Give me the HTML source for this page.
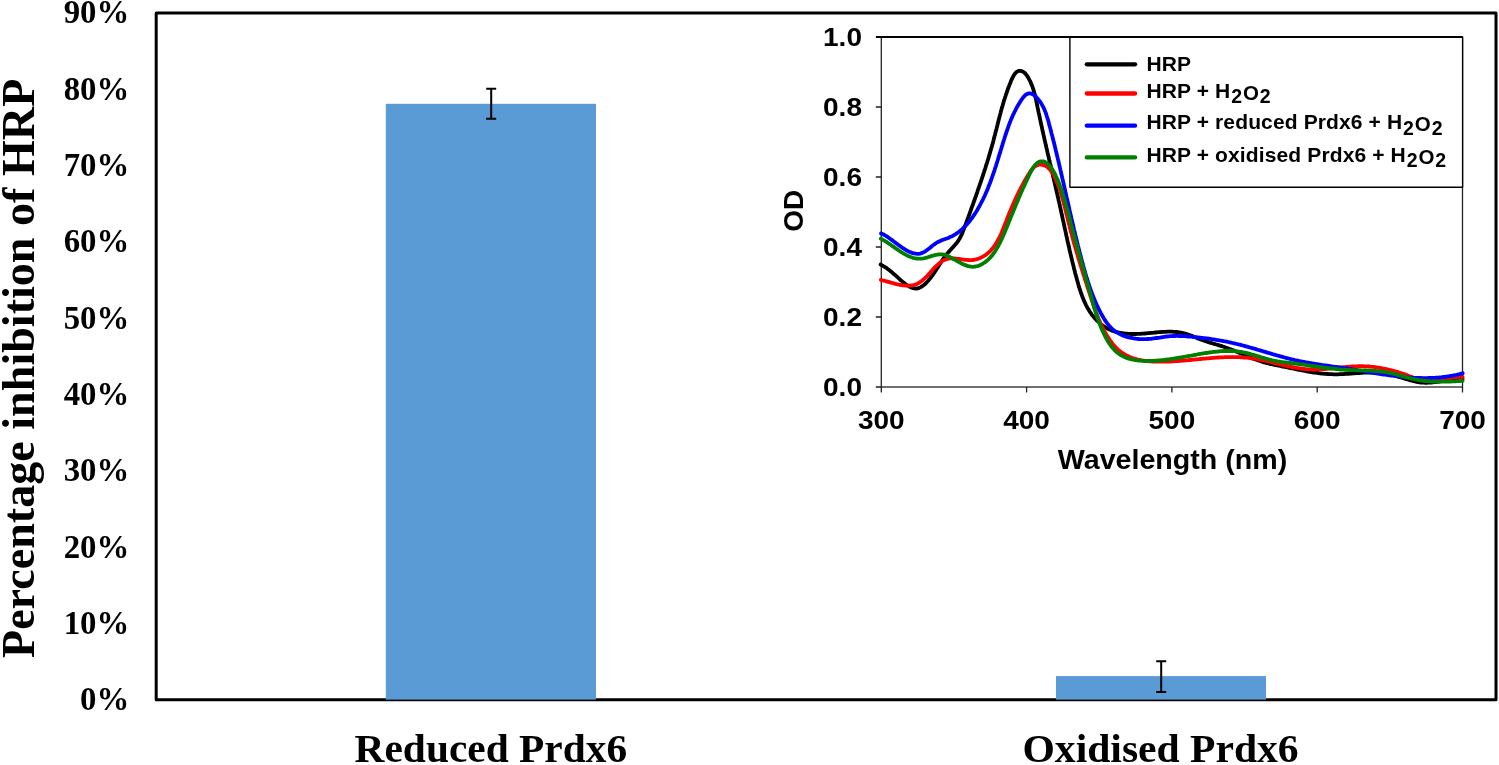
<!DOCTYPE html>
<html><head><meta charset="utf-8"><style>
html,body{margin:0;padding:0;background:#fff;width:1499px;height:765px;overflow:hidden}
svg{display:block;will-change:transform}
.ser{font-family:"Liberation Serif", serif;font-weight:bold;fill:#000}
.sans{font-family:"Liberation Sans", sans-serif;font-weight:bold;fill:#000}
</style></head><body>
<svg width="1499" height="765" viewBox="0 0 1499 765">
<text transform="translate(129.28,710.39)" text-anchor="end" class="ser" font-size="32.8">0%</text>
<text transform="translate(129.28,634.06)" text-anchor="end" class="ser" font-size="32.8">10%</text>
<text transform="translate(129.28,557.73)" text-anchor="end" class="ser" font-size="32.8">20%</text>
<text transform="translate(129.28,481.40)" text-anchor="end" class="ser" font-size="32.8">30%</text>
<text transform="translate(129.28,405.07)" text-anchor="end" class="ser" font-size="32.8">40%</text>
<text transform="translate(129.28,328.74)" text-anchor="end" class="ser" font-size="32.8">50%</text>
<text transform="translate(129.28,252.41)" text-anchor="end" class="ser" font-size="32.8">60%</text>
<text transform="translate(129.28,176.08)" text-anchor="end" class="ser" font-size="32.8">70%</text>
<text transform="translate(129.28,99.75)" text-anchor="end" class="ser" font-size="32.8">80%</text>
<text transform="translate(129.28,23.42)" text-anchor="end" class="ser" font-size="32.8">90%</text>
<text transform="translate(33.80,368.35) rotate(-90) scale(0.9940,1)" text-anchor="middle" class="ser" font-size="46.4">Percentage inhibition of HRP</text>
<text transform="translate(354.60,761.50) scale(1.0225,1)" class="ser" font-size="40.5">Reduced Prdx6</text>
<text transform="translate(1022.50,761.50) scale(1.0270,1)" class="ser" font-size="40.5">Oxidised Prdx6</text>
<rect x="156.2" y="13" width="1339.8" height="686.7" fill="none" stroke="#000" stroke-width="3" stroke-linejoin="round"/>
<rect x="385.8" y="103.8" width="210.2" height="595.8" fill="#5B9BD5"/>
<rect x="1056" y="676.1" width="210" height="23.5" fill="#5B9BD5"/>
<path d="M491.2,88.7V118.8M486.2,88.7H496.2M486.2,118.8H496.2" stroke="#000" stroke-width="2" fill="none"/>
<path d="M1161.2,661.2V692M1156.2,661.2H1166.2M1156.2,692H1166.2" stroke="#000" stroke-width="2" fill="none"/>
<rect x="881.3" y="37.0" width="581.2" height="350.0" fill="#fff" stroke="#222" stroke-width="1.3"/>
<path d="M875.8,387.0H881.3M875.8,317.0H881.3M875.8,247.0H881.3M875.8,177.0H881.3M875.8,107.0H881.3M875.8,37.0H881.3M881.3,387.0V392.5M1026.6,387.0V392.5M1171.9,387.0V392.5M1317.2,387.0V392.5M1462.5,387.0V392.5" stroke="#222" stroke-width="1.3" fill="none"/>
<text transform="translate(861.95,395.70) scale(1.1200,1)" text-anchor="end" class="sans" font-size="25">0.0</text>
<text transform="translate(861.95,325.70) scale(1.1200,1)" text-anchor="end" class="sans" font-size="25">0.2</text>
<text transform="translate(861.95,255.70) scale(1.1200,1)" text-anchor="end" class="sans" font-size="25">0.4</text>
<text transform="translate(861.95,185.70) scale(1.1200,1)" text-anchor="end" class="sans" font-size="25">0.6</text>
<text transform="translate(861.95,115.70) scale(1.1200,1)" text-anchor="end" class="sans" font-size="25">0.8</text>
<text transform="translate(861.95,45.70) scale(1.1200,1)" text-anchor="end" class="sans" font-size="25">1.0</text>
<text transform="translate(881.30,429.20) scale(1.1200,1)" text-anchor="middle" class="sans" font-size="25">300</text>
<text transform="translate(1026.60,429.20) scale(1.1200,1)" text-anchor="middle" class="sans" font-size="25">400</text>
<text transform="translate(1171.90,429.20) scale(1.1200,1)" text-anchor="middle" class="sans" font-size="25">500</text>
<text transform="translate(1317.20,429.20) scale(1.1200,1)" text-anchor="middle" class="sans" font-size="25">600</text>
<text transform="translate(1462.50,429.20) scale(1.1200,1)" text-anchor="middle" class="sans" font-size="25">700</text>
<text transform="translate(1057.80,468.80) scale(1.0260,1)" class="sans" font-size="27.9">Wavelength (nm)</text>
<text transform="translate(802.90,210.85) rotate(-90)" text-anchor="middle" class="sans" font-size="28">OD</text>
<path d="M880.6,264.6L882.0,265.3 883.3,266.0 884.6,266.8 885.9,267.6 887.1,268.5 888.3,269.4 889.5,270.3 890.6,271.2 891.8,272.2 892.9,273.2 894.1,274.2 895.2,275.2 896.3,276.2 897.4,277.2 898.5,278.2 899.6,279.2 900.8,280.2 901.9,281.1 903.1,282.1 904.2,283.0 905.4,284.0 906.6,284.8 907.9,285.7 909.2,286.5 910.5,287.2 911.9,287.7 913.3,288.2 914.8,288.5 916.3,288.5 917.8,288.3 919.2,287.9 920.6,287.2 921.8,286.5 923.1,285.6 924.2,284.7 925.4,283.7 926.4,282.6 927.5,281.5 928.5,280.4 929.4,279.3 930.4,278.1 931.3,276.9 932.2,275.7 933.1,274.5 933.9,273.3 934.8,272.0 935.6,270.8 936.4,269.5 937.2,268.3 938.0,267.0 938.8,265.7 939.6,264.4 940.4,263.2 941.2,261.9 942.0,260.6 942.9,259.4 943.7,258.1 944.6,256.9 945.5,255.7 946.4,254.5 947.4,253.4 948.4,252.2 949.4,251.1 950.4,250.0 951.4,248.9 952.4,247.8 953.4,246.7 954.4,245.6 955.4,244.4 956.4,243.3 957.3,242.1 958.2,240.9 959.0,239.6 959.8,238.3 960.5,237.0 961.1,235.7 961.8,234.3 962.4,232.9 962.9,231.5 963.5,230.1 964.0,228.7 964.5,227.3 965.0,225.9 965.6,224.5 966.1,223.1 966.6,221.7 967.1,220.3 967.6,218.9 968.2,217.5 968.7,216.1 969.2,214.7 969.7,213.3 970.2,211.8 970.7,210.4 971.2,209.0 971.7,207.6 972.2,206.2 972.8,204.8 973.3,203.4 973.8,201.9 974.3,200.5 974.8,199.1 975.3,197.7 975.8,196.3 976.3,194.9 976.8,193.5 977.3,192.0 977.7,190.6 978.2,189.2 978.7,187.8 979.2,186.4 979.7,184.9 980.2,183.5 980.7,182.1 981.2,180.7 981.6,179.3 982.1,177.8 982.6,176.4 983.1,175.0 983.5,173.6 984.0,172.1 984.4,170.7 984.9,169.3 985.4,167.8 985.8,166.4 986.3,165.0 986.7,163.6 987.2,162.1 987.6,160.7 988.1,159.3 988.5,157.8 988.9,156.4 989.4,154.9 989.8,153.5 990.2,152.1 990.6,150.6 991.0,149.2 991.5,147.7 991.9,146.3 992.3,144.8 992.7,143.4 993.1,142.0 993.5,140.5 993.8,139.1 994.2,137.6 994.6,136.1 995.0,134.7 995.3,133.2 995.7,131.8 996.1,130.3 996.5,128.9 996.8,127.4 997.2,126.0 997.6,124.5 997.9,123.1 998.3,121.6 998.7,120.1 999.0,118.7 999.4,117.2 999.8,115.8 1000.2,114.3 1000.6,112.9 1000.9,111.4 1001.3,110.0 1001.7,108.5 1002.1,107.1 1002.6,105.6 1003.0,104.2 1003.4,102.8 1003.8,101.3 1004.3,99.9 1004.7,98.5 1005.2,97.0 1005.7,95.6 1006.1,94.2 1006.6,92.8 1007.1,91.3 1007.6,89.9 1008.1,88.5 1008.6,87.1 1009.2,85.7 1009.7,84.3 1010.3,82.9 1010.8,81.5 1011.4,80.1 1012.0,78.8 1012.7,77.4 1013.4,76.1 1014.2,74.8 1015.0,73.6 1016.0,72.5 1017.2,71.6 1018.6,70.9 1020.1,70.8 1021.5,71.1 1022.9,71.7 1024.2,72.5 1025.3,73.5 1026.2,74.7 1027.1,75.9 1027.9,77.1 1028.7,78.4 1029.4,79.8 1030.1,81.1 1030.7,82.5 1031.3,83.9 1031.9,85.2 1032.4,86.6 1032.9,88.1 1033.4,89.5 1033.8,90.9 1034.2,92.4 1034.6,93.8 1035.0,95.3 1035.4,96.7 1035.7,98.2 1036.0,99.6 1036.3,101.1 1036.6,102.6 1036.9,104.1 1037.2,105.5 1037.5,107.0 1037.8,108.5 1038.1,109.9 1038.4,111.4 1038.7,112.9 1039.1,114.3 1039.4,115.8 1039.7,117.3 1040.0,118.7 1040.3,120.2 1040.6,121.7 1040.9,123.2 1041.2,124.6 1041.6,126.1 1041.9,127.6 1042.2,129.0 1042.5,130.5 1042.9,131.9 1043.2,133.4 1043.5,134.9 1043.9,136.3 1044.2,137.8 1044.5,139.3 1044.8,140.7 1045.2,142.2 1045.5,143.7 1045.9,145.1 1046.2,146.6 1046.5,148.0 1046.9,149.5 1047.2,151.0 1047.5,152.4 1047.9,153.9 1048.2,155.4 1048.6,156.8 1048.9,158.3 1049.2,159.7 1049.6,161.2 1049.9,162.7 1050.3,164.1 1050.6,165.6 1051.0,167.1 1051.3,168.5 1051.6,170.0 1052.0,171.4 1052.3,172.9 1052.7,174.4 1053.0,175.8 1053.3,177.3 1053.7,178.7 1054.0,180.2 1054.4,181.7 1054.7,183.1 1055.0,184.6 1055.4,186.1 1055.7,187.5 1056.1,189.0 1056.4,190.4 1056.7,191.9 1057.1,193.4 1057.4,194.8 1057.7,196.3 1058.1,197.8 1058.4,199.2 1058.7,200.7 1059.1,202.2 1059.4,203.6 1059.7,205.1 1060.0,206.5 1060.4,208.0 1060.7,209.5 1061.0,210.9 1061.3,212.4 1061.7,213.9 1062.0,215.3 1062.3,216.8 1062.6,218.3 1062.9,219.7 1063.3,221.2 1063.6,222.7 1063.9,224.1 1064.2,225.6 1064.5,227.1 1064.8,228.5 1065.2,230.0 1065.5,231.5 1065.8,232.9 1066.1,234.4 1066.4,235.9 1066.8,237.3 1067.1,238.8 1067.4,240.3 1067.7,241.7 1068.1,243.2 1068.4,244.7 1068.7,246.1 1069.1,247.6 1069.4,249.1 1069.7,250.5 1070.1,252.0 1070.4,253.4 1070.8,254.9 1071.1,256.4 1071.4,257.8 1071.8,259.3 1072.1,260.8 1072.5,262.2 1072.9,263.7 1073.2,265.1 1073.6,266.6 1073.9,268.0 1074.3,269.5 1074.7,270.9 1075.0,272.4 1075.4,273.9 1075.8,275.3 1076.2,276.8 1076.6,278.2 1077.0,279.7 1077.4,281.1 1077.8,282.6 1078.2,284.0 1078.6,285.4 1079.0,286.9 1079.5,288.3 1079.9,289.7 1080.4,291.2 1080.9,292.6 1081.4,294.0 1081.9,295.4 1082.4,296.8 1083.0,298.2 1083.5,299.6 1084.1,301.0 1084.8,302.3 1085.4,303.7 1086.0,305.1 1086.7,306.4 1087.4,307.7 1088.2,309.0 1089.0,310.3 1089.7,311.6 1090.6,312.8 1091.4,314.1 1092.3,315.3 1093.3,316.5 1094.2,317.6 1095.2,318.7 1096.2,319.8 1097.3,320.9 1098.4,321.9 1099.5,322.9 1100.6,323.9 1101.8,324.8 1103.0,325.7 1104.3,326.6 1105.5,327.4 1106.8,328.1 1108.2,328.8 1109.5,329.5 1110.9,330.1 1112.3,330.6 1113.7,331.1 1115.1,331.6 1116.6,332.0 1118.0,332.4 1119.5,332.7 1121.0,333.0 1122.4,333.2 1123.9,333.4 1125.4,333.6 1126.9,333.7 1128.4,333.8 1129.9,333.9 1131.4,334.0 1132.9,334.0 1134.4,334.0 1135.9,334.0 1137.4,333.9 1138.9,333.9 1140.4,333.8 1141.9,333.7 1143.4,333.6 1144.9,333.5 1146.4,333.4 1147.9,333.2 1149.4,333.1 1150.9,332.9 1152.4,332.8 1153.9,332.7 1155.4,332.5 1156.9,332.4 1158.4,332.2 1159.9,332.1 1161.4,332.0 1162.9,331.9 1164.4,331.8 1165.8,331.8 1167.4,331.7 1168.9,331.7 1170.4,331.7 1171.9,331.7 1173.4,331.8 1174.9,331.9 1176.3,332.0 1177.8,332.2 1179.3,332.4 1180.8,332.6 1182.3,332.9 1183.7,333.3 1185.2,333.7 1186.6,334.1 1188.1,334.6 1189.5,335.1 1190.9,335.6 1192.3,336.1 1193.7,336.7 1195.1,337.2 1196.5,337.8 1197.8,338.4 1199.2,338.9 1200.6,339.5 1202.0,340.0 1203.5,340.5 1204.9,341.0 1206.3,341.5 1207.7,341.9 1209.2,342.4 1210.6,342.8 1212.0,343.2 1213.5,343.7 1214.9,344.1 1216.4,344.5 1217.8,344.9 1219.2,345.4 1220.7,345.8 1222.1,346.2 1223.5,346.7 1225.0,347.2 1226.4,347.7 1227.8,348.2 1229.2,348.7 1230.6,349.2 1232.0,349.8 1233.4,350.3 1234.8,350.9 1236.2,351.5 1237.5,352.1 1238.9,352.7 1240.3,353.2 1241.7,353.8 1243.1,354.4 1244.4,355.0 1245.8,355.6 1247.2,356.2 1248.6,356.8 1250.0,357.3 1251.4,357.9 1252.8,358.4 1254.2,359.0 1255.6,359.5 1257.0,360.0 1258.4,360.5 1259.8,361.0 1261.3,361.4 1262.7,361.9 1264.1,362.3 1265.6,362.7 1267.0,363.1 1268.5,363.4 1270.0,363.8 1271.4,364.1 1272.9,364.4 1274.4,364.8 1275.8,365.1 1277.3,365.4 1278.8,365.7 1280.2,366.0 1281.7,366.3 1283.2,366.6 1284.7,366.9 1286.1,367.2 1287.6,367.5 1289.1,367.8 1290.5,368.1 1292.0,368.4 1293.5,368.7 1294.9,369.0 1296.4,369.3 1297.9,369.6 1299.4,369.9 1300.8,370.2 1302.3,370.5 1303.8,370.7 1305.3,371.0 1306.7,371.3 1308.2,371.5 1309.7,371.8 1311.2,372.1 1312.6,372.3 1314.1,372.5 1315.6,372.7 1317.1,372.9 1318.6,373.1 1320.1,373.3 1321.6,373.5 1323.1,373.6 1324.6,373.8 1326.1,373.9 1327.6,374.0 1329.1,374.1 1330.6,374.2 1332.1,374.2 1333.6,374.3 1335.1,374.3 1336.6,374.3 1338.1,374.3 1339.6,374.2 1341.1,374.2 1342.6,374.1 1344.1,374.0 1345.6,373.9 1347.1,373.9 1348.5,373.8 1350.0,373.6 1351.5,373.5 1353.0,373.4 1354.5,373.3 1356.0,373.2 1357.5,373.1 1359.0,373.0 1360.5,372.9 1362.0,372.8 1363.5,372.7 1365.0,372.7 1366.5,372.6 1368.0,372.6 1369.5,372.6 1371.0,372.6 1372.5,372.6 1374.0,372.6 1375.5,372.6 1377.0,372.7 1378.5,372.8 1380.0,372.9 1381.5,373.0 1383.0,373.2 1384.5,373.4 1386.0,373.6 1387.5,373.9 1388.9,374.2 1390.4,374.5 1391.9,374.8 1393.3,375.2 1394.8,375.6 1396.2,376.0 1397.7,376.4 1399.1,376.8 1400.5,377.3 1402.0,377.7 1403.4,378.2 1404.8,378.6 1406.3,379.1 1407.7,379.5 1409.1,379.9 1410.6,380.4 1412.0,380.7 1413.5,381.1 1414.9,381.5 1416.4,381.8 1417.9,382.0 1419.4,382.3 1420.9,382.5 1422.3,382.6 1423.8,382.7 1425.3,382.8 1426.8,382.8 1428.3,382.7 1429.8,382.7 1431.3,382.5 1432.8,382.4 1434.3,382.2 1435.8,382.0 1437.3,381.8 1438.8,381.6 1440.3,381.3 1441.7,381.1 1443.2,380.8 1444.7,380.6 1446.2,380.3 1447.7,380.1 1449.1,379.8 1450.6,379.6 1452.1,379.4 1453.6,379.2 1455.1,379.1 1456.6,379.0 1458.1,378.9 1459.6,378.9 1461.1,378.9 1462.6,379.0" stroke="#000000" stroke-width="3.8" fill="none" stroke-linejoin="round" stroke-linecap="round"/>
<path d="M880.8,279.9L882.3,280.3 883.7,280.6 885.2,281.0 886.6,281.4 888.1,281.8 889.5,282.2 890.9,282.6 892.4,283.0 893.8,283.4 895.3,283.8 896.8,284.1 898.2,284.5 899.7,284.8 901.2,285.0 902.7,285.3 904.2,285.4 905.7,285.6 907.2,285.6 908.7,285.6 910.2,285.6 911.6,285.4 913.1,285.2 914.6,284.8 916.0,284.3 917.4,283.7 918.7,283.0 920.0,282.2 921.2,281.3 922.4,280.4 923.5,279.4 924.6,278.4 925.7,277.4 926.8,276.3 927.8,275.2 928.8,274.1 929.8,273.0 930.8,271.9 931.8,270.7 932.8,269.6 933.8,268.5 934.8,267.4 935.9,266.3 937.0,265.3 938.1,264.3 939.2,263.3 940.4,262.4 941.6,261.5 942.9,260.7 944.2,260.0 945.6,259.4 947.0,259.0 948.5,258.6 950.0,258.4 951.5,258.4 953.0,258.4 954.5,258.5 956.0,258.6 957.5,258.8 959.0,259.0 960.5,259.2 961.9,259.4 963.4,259.6 964.9,259.8 966.4,259.9 967.9,260.0 969.4,260.1 970.9,260.1 972.4,260.0 973.9,259.8 975.4,259.5 976.8,259.2 978.3,258.7 979.7,258.2 981.1,257.6 982.4,256.9 983.7,256.2 985.0,255.4 986.2,254.5 987.4,253.6 988.5,252.6 989.6,251.6 990.7,250.5 991.7,249.4 992.6,248.3 993.6,247.1 994.4,245.8 995.3,244.6 996.1,243.3 996.9,242.1 997.6,240.7 998.3,239.4 999.0,238.1 999.7,236.8 1000.3,235.4 1001.0,234.0 1001.6,232.7 1002.2,231.3 1002.7,229.9 1003.3,228.5 1003.9,227.1 1004.4,225.7 1005.0,224.3 1005.5,222.9 1006.1,221.5 1006.6,220.1 1007.1,218.7 1007.7,217.3 1008.2,215.9 1008.8,214.5 1009.4,213.1 1009.9,211.7 1010.5,210.4 1011.1,209.0 1011.7,207.6 1012.3,206.2 1012.9,204.8 1013.5,203.4 1014.1,202.1 1014.7,200.7 1015.3,199.3 1015.9,198.0 1016.6,196.6 1017.2,195.3 1017.9,193.9 1018.5,192.6 1019.2,191.2 1019.9,189.9 1020.6,188.5 1021.3,187.2 1022.0,185.9 1022.7,184.6 1023.4,183.2 1024.1,181.9 1024.9,180.6 1025.6,179.3 1026.4,178.0 1027.1,176.7 1027.9,175.4 1028.7,174.2 1029.5,172.9 1030.3,171.6 1031.1,170.4 1032.1,169.2 1033.1,168.1 1034.2,167.0 1035.4,166.2 1036.7,165.4 1038.1,165.0 1039.6,164.7 1041.1,164.7 1042.6,164.9 1044.0,165.3 1045.4,165.8 1046.7,166.6 1047.9,167.5 1049.0,168.5 1050.0,169.6 1050.9,170.8 1051.8,172.0 1052.6,173.3 1053.4,174.6 1054.1,175.9 1054.8,177.3 1055.4,178.6 1056.0,180.0 1056.6,181.4 1057.2,182.8 1057.7,184.2 1058.3,185.6 1058.8,187.0 1059.3,188.4 1059.8,189.8 1060.3,191.2 1060.7,192.7 1061.2,194.1 1061.6,195.5 1062.1,197.0 1062.5,198.4 1062.9,199.9 1063.3,201.3 1063.7,202.8 1064.0,204.2 1064.4,205.7 1064.8,207.1 1065.2,208.6 1065.5,210.0 1065.9,211.5 1066.2,212.9 1066.6,214.4 1067.0,215.9 1067.3,217.3 1067.7,218.8 1068.0,220.2 1068.4,221.7 1068.7,223.2 1069.1,224.6 1069.5,226.1 1069.8,227.5 1070.2,229.0 1070.6,230.4 1071.0,231.9 1071.4,233.3 1071.8,234.8 1072.1,236.2 1072.5,237.7 1072.9,239.1 1073.3,240.6 1073.7,242.0 1074.1,243.5 1074.6,244.9 1075.0,246.4 1075.4,247.8 1075.8,249.3 1076.2,250.7 1076.6,252.1 1077.1,253.6 1077.5,255.0 1077.9,256.5 1078.3,257.9 1078.8,259.3 1079.2,260.8 1079.7,262.2 1080.1,263.6 1080.5,265.1 1081.0,266.5 1081.4,267.9 1081.9,269.4 1082.3,270.8 1082.8,272.2 1083.2,273.7 1083.7,275.1 1084.1,276.5 1084.6,278.0 1085.0,279.4 1085.5,280.8 1086.0,282.3 1086.4,283.7 1086.9,285.1 1087.3,286.6 1087.8,288.0 1088.3,289.4 1088.7,290.8 1089.2,292.3 1089.7,293.7 1090.1,295.1 1090.6,296.5 1091.1,298.0 1091.5,299.4 1092.0,300.8 1092.5,302.2 1093.0,303.7 1093.5,305.1 1093.9,306.5 1094.4,307.9 1094.9,309.3 1095.5,310.8 1096.0,312.2 1096.5,313.6 1097.0,315.0 1097.6,316.4 1098.2,317.8 1098.7,319.2 1099.3,320.5 1099.9,321.9 1100.5,323.3 1101.2,324.6 1101.8,326.0 1102.5,327.4 1103.1,328.7 1103.8,330.0 1104.5,331.3 1105.3,332.7 1106.0,334.0 1106.8,335.3 1107.6,336.5 1108.4,337.8 1109.2,339.1 1110.0,340.3 1110.9,341.5 1111.8,342.7 1112.7,343.9 1113.7,345.1 1114.7,346.2 1115.7,347.3 1116.8,348.4 1117.8,349.4 1119.0,350.4 1120.1,351.3 1121.3,352.2 1122.6,353.1 1123.8,353.9 1125.1,354.7 1126.5,355.4 1127.8,356.0 1129.2,356.7 1130.6,357.2 1132.0,357.8 1133.4,358.3 1134.8,358.7 1136.3,359.1 1137.7,359.5 1139.2,359.8 1140.7,360.1 1142.1,360.4 1143.6,360.6 1145.1,360.9 1146.6,361.0 1148.1,361.2 1149.6,361.3 1151.1,361.4 1152.6,361.5 1154.1,361.6 1155.6,361.7 1157.1,361.7 1158.6,361.7 1160.1,361.7 1161.6,361.7 1163.1,361.7 1164.6,361.7 1166.1,361.6 1167.6,361.6 1169.1,361.5 1170.6,361.5 1172.1,361.4 1173.6,361.3 1175.1,361.2 1176.6,361.1 1178.1,361.0 1179.6,360.9 1181.1,360.8 1182.6,360.7 1184.1,360.5 1185.6,360.4 1187.1,360.3 1188.6,360.1 1190.1,360.0 1191.6,359.9 1193.1,359.7 1194.5,359.6 1196.0,359.4 1197.5,359.3 1199.0,359.1 1200.5,359.0 1202.0,358.9 1203.5,358.7 1205.0,358.6 1206.5,358.4 1208.0,358.3 1209.5,358.2 1211.0,358.1 1212.5,357.9 1214.0,357.8 1215.5,357.7 1217.0,357.6 1218.5,357.5 1220.0,357.4 1221.5,357.4 1223.0,357.3 1224.5,357.2 1226.0,357.2 1227.5,357.1 1229.0,357.1 1230.5,357.1 1232.0,357.1 1233.5,357.1 1235.0,357.1 1236.5,357.1 1238.0,357.2 1239.5,357.2 1241.0,357.3 1242.5,357.4 1244.0,357.5 1245.5,357.6 1247.0,357.7 1248.5,357.9 1250.0,358.1 1251.5,358.3 1253.0,358.5 1254.4,358.7 1255.9,358.9 1257.4,359.2 1258.9,359.5 1260.3,359.8 1261.8,360.1 1263.3,360.4 1264.8,360.7 1266.2,361.0 1267.7,361.4 1269.1,361.7 1270.6,362.1 1272.1,362.4 1273.5,362.8 1275.0,363.1 1276.4,363.5 1277.9,363.9 1279.4,364.2 1280.8,364.6 1282.3,364.9 1283.7,365.3 1285.2,365.6 1286.7,365.9 1288.1,366.3 1289.6,366.6 1291.1,366.9 1292.5,367.2 1294.0,367.5 1295.5,367.7 1297.0,368.0 1298.5,368.2 1299.9,368.5 1301.4,368.7 1302.9,368.8 1304.4,369.0 1305.9,369.1 1307.4,369.3 1308.9,369.3 1310.4,369.4 1311.9,369.4 1313.4,369.5 1314.9,369.5 1316.4,369.4 1317.9,369.4 1319.4,369.3 1320.9,369.3 1322.4,369.2 1323.9,369.1 1325.4,369.0 1326.9,368.8 1328.4,368.7 1329.9,368.6 1331.4,368.4 1332.9,368.3 1334.4,368.1 1335.9,368.0 1337.4,367.8 1338.9,367.7 1340.4,367.5 1341.9,367.3 1343.3,367.2 1344.8,367.1 1346.3,366.9 1347.8,366.8 1349.3,366.7 1350.8,366.6 1352.3,366.5 1353.8,366.4 1355.3,366.3 1356.8,366.3 1358.3,366.2 1359.8,366.2 1361.3,366.2 1362.8,366.2 1364.3,366.3 1365.8,366.3 1367.3,366.4 1368.8,366.5 1370.3,366.6 1371.8,366.8 1373.3,366.9 1374.8,367.1 1376.3,367.3 1377.8,367.5 1379.3,367.8 1380.8,368.0 1382.2,368.3 1383.7,368.6 1385.2,368.9 1386.6,369.2 1388.1,369.5 1389.6,369.9 1391.0,370.2 1392.5,370.6 1393.9,371.0 1395.4,371.4 1396.8,371.8 1398.3,372.2 1399.7,372.7 1401.1,373.2 1402.5,373.6 1404.0,374.1 1405.4,374.6 1406.8,375.1 1408.2,375.7 1409.6,376.2 1411.0,376.7 1412.4,377.2 1413.8,377.7 1415.3,378.2 1416.7,378.7 1418.1,379.1 1419.6,379.5 1421.0,379.9 1422.5,380.3 1424.0,380.6 1425.4,380.8 1426.9,381.0 1428.4,381.1 1429.9,381.1 1431.4,381.1 1432.9,381.1 1434.4,380.9 1435.9,380.7 1437.4,380.5 1438.9,380.3 1440.4,380.0 1441.8,379.7 1443.3,379.4 1444.8,379.1 1446.2,378.8 1447.7,378.5 1449.2,378.2 1450.7,377.9 1452.1,377.6 1453.6,377.4 1455.1,377.2 1456.6,377.0 1458.1,376.9 1459.6,376.9 1461.1,376.9 1462.6,377.0" stroke="#ff0000" stroke-width="3.8" fill="none" stroke-linejoin="round" stroke-linecap="round"/>
<path d="M881.0,233.4L882.4,234.0 883.7,234.6 885.0,235.4 886.3,236.1 887.6,236.9 888.8,237.8 890.0,238.7 891.3,239.6 892.5,240.4 893.7,241.4 894.9,242.3 896.1,243.2 897.3,244.1 898.5,245.0 899.7,245.8 900.9,246.7 902.1,247.6 903.4,248.4 904.6,249.2 905.9,250.0 907.2,250.7 908.6,251.4 909.9,252.0 911.3,252.6 912.8,253.1 914.2,253.4 915.7,253.7 917.2,253.8 918.7,253.8 920.2,253.6 921.6,253.2 923.0,252.6 924.3,251.9 925.6,251.1 926.8,250.2 928.0,249.3 929.2,248.4 930.4,247.5 931.5,246.5 932.7,245.6 933.9,244.6 935.1,243.8 936.3,242.9 937.6,242.2 939.0,241.5 940.3,240.9 941.7,240.3 943.1,239.8 944.5,239.3 946.0,238.8 947.4,238.3 948.8,237.7 950.1,237.1 951.5,236.5 952.8,235.8 954.1,235.0 955.4,234.3 956.7,233.4 957.9,232.6 959.1,231.7 960.3,230.7 961.4,229.8 962.5,228.8 963.6,227.7 964.7,226.7 965.7,225.6 966.8,224.5 967.7,223.4 968.7,222.2 969.7,221.1 970.6,219.9 971.5,218.7 972.4,217.5 973.2,216.2 974.1,215.0 974.9,213.7 975.7,212.5 976.5,211.2 977.3,209.9 978.0,208.6 978.8,207.3 979.5,206.0 980.2,204.7 980.9,203.4 981.6,202.0 982.3,200.7 983.0,199.3 983.6,198.0 984.3,196.6 984.9,195.3 985.5,193.9 986.1,192.5 986.7,191.2 987.3,189.8 987.9,188.4 988.4,187.0 989.0,185.6 989.5,184.2 990.1,182.8 990.6,181.4 991.1,180.0 991.6,178.6 992.1,177.2 992.6,175.7 993.1,174.3 993.6,172.9 994.1,171.5 994.6,170.1 995.0,168.6 995.5,167.2 996.0,165.8 996.4,164.3 996.9,162.9 997.3,161.5 997.8,160.0 998.2,158.6 998.6,157.2 999.1,155.7 999.5,154.3 1000.0,152.9 1000.4,151.4 1000.8,150.0 1001.3,148.6 1001.7,147.1 1002.2,145.7 1002.6,144.3 1003.0,142.8 1003.5,141.4 1003.9,140.0 1004.4,138.5 1004.8,137.1 1005.3,135.7 1005.8,134.2 1006.2,132.8 1006.7,131.4 1007.2,130.0 1007.7,128.6 1008.2,127.1 1008.7,125.7 1009.2,124.3 1009.7,122.9 1010.3,121.5 1010.8,120.1 1011.4,118.7 1012.0,117.4 1012.6,116.0 1013.2,114.6 1013.9,113.3 1014.5,111.9 1015.2,110.6 1015.9,109.2 1016.6,107.9 1017.3,106.6 1018.1,105.3 1018.8,104.0 1019.6,102.7 1020.4,101.4 1021.2,100.2 1022.1,98.9 1022.9,97.7 1023.9,96.6 1024.9,95.5 1026.1,94.5 1027.4,93.8 1028.8,93.4 1030.3,93.4 1031.8,93.8 1033.1,94.5 1034.3,95.3 1035.5,96.3 1036.5,97.4 1037.6,98.5 1038.5,99.6 1039.4,100.8 1040.3,102.0 1041.1,103.3 1041.9,104.6 1042.6,105.9 1043.3,107.2 1044.0,108.6 1044.6,110.0 1045.1,111.3 1045.7,112.7 1046.2,114.2 1046.6,115.6 1047.1,117.0 1047.5,118.4 1048.0,119.9 1048.4,121.3 1048.8,122.8 1049.1,124.2 1049.5,125.7 1049.9,127.1 1050.3,128.6 1050.7,130.0 1051.1,131.5 1051.4,132.9 1051.8,134.4 1052.2,135.8 1052.6,137.3 1052.9,138.8 1053.3,140.2 1053.7,141.7 1054.0,143.1 1054.4,144.6 1054.8,146.0 1055.1,147.5 1055.5,149.0 1055.8,150.4 1056.2,151.9 1056.5,153.3 1056.9,154.8 1057.2,156.3 1057.6,157.7 1057.9,159.2 1058.3,160.6 1058.6,162.1 1059.0,163.6 1059.3,165.0 1059.6,166.5 1060.0,167.9 1060.3,169.4 1060.7,170.9 1061.0,172.3 1061.3,173.8 1061.7,175.3 1062.0,176.7 1062.3,178.2 1062.7,179.6 1063.0,181.1 1063.3,182.6 1063.7,184.0 1064.0,185.5 1064.3,187.0 1064.7,188.4 1065.0,189.9 1065.3,191.4 1065.6,192.8 1066.0,194.3 1066.3,195.7 1066.6,197.2 1067.0,198.7 1067.3,200.1 1067.6,201.6 1068.0,203.1 1068.3,204.5 1068.6,206.0 1069.0,207.5 1069.3,208.9 1069.6,210.4 1070.0,211.8 1070.3,213.3 1070.6,214.8 1071.0,216.2 1071.3,217.7 1071.6,219.2 1072.0,220.6 1072.3,222.1 1072.7,223.5 1073.0,225.0 1073.4,226.5 1073.7,227.9 1074.0,229.4 1074.4,230.9 1074.7,232.3 1075.1,233.8 1075.4,235.2 1075.8,236.7 1076.1,238.1 1076.5,239.6 1076.9,241.1 1077.2,242.5 1077.6,244.0 1077.9,245.4 1078.3,246.9 1078.7,248.3 1079.0,249.8 1079.4,251.3 1079.8,252.7 1080.2,254.2 1080.5,255.6 1080.9,257.1 1081.3,258.5 1081.7,260.0 1082.1,261.4 1082.5,262.9 1082.8,264.3 1083.2,265.8 1083.6,267.2 1084.0,268.7 1084.5,270.1 1084.9,271.6 1085.3,273.0 1085.7,274.4 1086.1,275.9 1086.6,277.3 1087.0,278.7 1087.5,280.2 1087.9,281.6 1088.4,283.0 1088.8,284.5 1089.3,285.9 1089.8,287.3 1090.3,288.7 1090.8,290.1 1091.3,291.5 1091.8,293.0 1092.4,294.4 1092.9,295.8 1093.5,297.2 1094.0,298.5 1094.6,299.9 1095.2,301.3 1095.8,302.7 1096.4,304.1 1097.0,305.4 1097.7,306.8 1098.3,308.1 1099.0,309.5 1099.7,310.8 1100.3,312.2 1101.0,313.5 1101.8,314.8 1102.5,316.1 1103.3,317.4 1104.0,318.7 1104.8,320.0 1105.7,321.2 1106.5,322.4 1107.4,323.6 1108.4,324.8 1109.3,326.0 1110.4,327.1 1111.4,328.1 1112.5,329.1 1113.7,330.1 1114.8,331.0 1116.1,331.9 1117.3,332.7 1118.6,333.4 1120.0,334.1 1121.3,334.8 1122.7,335.4 1124.1,335.9 1125.5,336.4 1127.0,336.9 1128.4,337.3 1129.9,337.6 1131.3,337.9 1132.8,338.2 1134.3,338.5 1135.8,338.7 1137.3,338.8 1138.8,339.0 1140.3,339.1 1141.8,339.1 1143.3,339.1 1144.8,339.1 1146.3,339.1 1147.8,339.0 1149.3,338.9 1150.8,338.8 1152.2,338.6 1153.7,338.4 1155.2,338.2 1156.7,338.0 1158.2,337.8 1159.7,337.6 1161.2,337.3 1162.7,337.1 1164.1,336.9 1165.6,336.7 1167.1,336.5 1168.6,336.4 1170.1,336.2 1171.6,336.1 1173.1,336.0 1174.6,336.0 1176.1,335.9 1177.6,335.9 1179.1,336.0 1180.6,336.0 1182.1,336.1 1183.6,336.1 1185.1,336.2 1186.6,336.3 1188.1,336.5 1189.6,336.6 1191.1,336.7 1192.6,336.8 1194.1,337.0 1195.6,337.1 1197.1,337.3 1198.5,337.4 1200.0,337.6 1201.5,337.8 1203.0,338.0 1204.5,338.1 1206.0,338.3 1207.5,338.5 1209.0,338.7 1210.5,338.9 1211.9,339.2 1213.4,339.4 1214.9,339.6 1216.4,339.9 1217.9,340.1 1219.4,340.4 1220.8,340.6 1222.3,340.9 1223.8,341.2 1225.3,341.4 1226.7,341.7 1228.2,342.0 1229.7,342.3 1231.1,342.7 1232.6,343.0 1234.1,343.3 1235.5,343.7 1237.0,344.0 1238.4,344.4 1239.9,344.7 1241.4,345.1 1242.8,345.5 1244.3,345.9 1245.7,346.3 1247.2,346.7 1248.6,347.1 1250.0,347.5 1251.5,347.9 1252.9,348.3 1254.4,348.7 1255.8,349.1 1257.3,349.6 1258.7,350.0 1260.1,350.4 1261.6,350.8 1263.0,351.3 1264.4,351.7 1265.9,352.1 1267.3,352.6 1268.8,353.0 1270.2,353.4 1271.6,353.8 1273.1,354.3 1274.5,354.7 1276.0,355.1 1277.4,355.5 1278.8,355.9 1280.3,356.3 1281.7,356.7 1283.2,357.1 1284.6,357.5 1286.1,357.9 1287.5,358.3 1289.0,358.7 1290.5,359.0 1291.9,359.4 1293.4,359.7 1294.8,360.1 1296.3,360.4 1297.8,360.7 1299.2,361.0 1300.7,361.3 1302.2,361.6 1303.7,361.9 1305.1,362.2 1306.6,362.5 1308.1,362.7 1309.6,363.0 1311.0,363.2 1312.5,363.5 1314.0,363.7 1315.5,364.0 1317.0,364.2 1318.4,364.4 1319.9,364.6 1321.4,364.9 1322.9,365.1 1324.4,365.3 1325.9,365.5 1327.4,365.7 1328.8,365.9 1330.3,366.1 1331.8,366.4 1333.3,366.6 1334.8,366.8 1336.3,367.0 1337.8,367.2 1339.2,367.4 1340.7,367.6 1342.2,367.8 1343.7,368.1 1345.2,368.3 1346.7,368.5 1348.2,368.7 1349.6,369.0 1351.1,369.2 1352.6,369.4 1354.1,369.7 1355.6,369.9 1357.1,370.1 1358.5,370.4 1360.0,370.6 1361.5,370.9 1363.0,371.1 1364.5,371.4 1365.9,371.6 1367.4,371.9 1368.9,372.1 1370.4,372.4 1371.9,372.6 1373.3,372.8 1374.8,373.1 1376.3,373.3 1377.8,373.6 1379.3,373.8 1380.8,374.0 1382.2,374.3 1383.7,374.5 1385.2,374.7 1386.7,374.9 1388.2,375.1 1389.7,375.3 1391.1,375.5 1392.6,375.7 1394.1,375.9 1395.6,376.1 1397.1,376.3 1398.6,376.5 1400.1,376.6 1401.6,376.8 1403.1,376.9 1404.6,377.1 1406.1,377.2 1407.6,377.3 1409.1,377.5 1410.6,377.6 1412.0,377.7 1413.5,377.8 1415.0,377.8 1416.5,377.9 1418.0,378.0 1419.5,378.0 1421.0,378.0 1422.5,378.1 1424.0,378.1 1425.5,378.1 1427.1,378.1 1428.6,378.0 1430.1,378.0 1431.6,378.0 1433.1,377.9 1434.6,377.8 1436.0,377.7 1437.5,377.6 1439.0,377.5 1440.5,377.3 1442.0,377.2 1443.5,377.0 1445.0,376.8 1446.5,376.6 1448.0,376.4 1449.5,376.2 1450.9,375.9 1452.4,375.7 1453.9,375.4 1455.4,375.1 1456.8,374.8 1458.3,374.4 1459.8,374.1 1461.2,373.7 1462.7,373.3" stroke="#0000ff" stroke-width="3.8" fill="none" stroke-linejoin="round" stroke-linecap="round"/>
<path d="M880.8,238.7L882.1,239.3 883.4,240.1 884.7,240.8 886.0,241.6 887.3,242.5 888.5,243.3 889.8,244.1 891.0,245.0 892.2,245.9 893.4,246.7 894.7,247.6 895.9,248.5 897.1,249.3 898.3,250.2 899.6,251.0 900.8,251.9 902.1,252.7 903.4,253.5 904.7,254.2 906.0,254.9 907.3,255.6 908.7,256.2 910.1,256.8 911.5,257.3 912.9,257.8 914.4,258.2 915.8,258.5 917.3,258.6 918.8,258.7 920.3,258.7 921.8,258.6 923.3,258.4 924.8,258.1 926.2,257.7 927.7,257.3 929.1,256.8 930.6,256.4 932.0,255.9 933.4,255.5 934.9,255.1 936.3,254.8 937.8,254.5 939.3,254.3 940.8,254.3 942.3,254.4 943.8,254.6 945.2,255.0 946.6,255.5 948.0,256.1 949.4,256.8 950.7,257.5 952.0,258.2 953.3,259.0 954.6,259.7 955.9,260.4 957.2,261.2 958.5,261.9 959.9,262.6 961.2,263.3 962.5,264.0 963.9,264.6 965.3,265.1 966.7,265.6 968.2,266.1 969.6,266.4 971.1,266.7 972.6,266.8 974.1,266.7 975.6,266.5 977.1,266.2 978.5,265.8 979.9,265.2 981.2,264.6 982.5,263.8 983.8,263.0 985.1,262.2 986.2,261.3 987.4,260.3 988.5,259.3 989.6,258.2 990.6,257.1 991.6,256.0 992.5,254.8 993.4,253.6 994.3,252.4 995.1,251.2 995.9,249.9 996.7,248.6 997.5,247.3 998.2,246.0 998.9,244.7 999.6,243.3 1000.3,242.0 1000.9,240.7 1001.6,239.3 1002.2,237.9 1002.8,236.6 1003.4,235.2 1004.0,233.8 1004.6,232.4 1005.2,231.0 1005.7,229.6 1006.3,228.3 1006.9,226.9 1007.5,225.5 1008.0,224.1 1008.6,222.7 1009.2,221.3 1009.7,219.9 1010.3,218.5 1010.9,217.1 1011.4,215.8 1012.0,214.4 1012.6,213.0 1013.2,211.6 1013.7,210.2 1014.3,208.8 1014.9,207.4 1015.4,206.0 1016.0,204.7 1016.6,203.3 1017.2,201.9 1017.8,200.5 1018.3,199.1 1018.9,197.7 1019.5,196.4 1020.1,195.0 1020.7,193.6 1021.3,192.2 1021.9,190.9 1022.5,189.5 1023.1,188.1 1023.8,186.7 1024.4,185.4 1025.0,184.0 1025.6,182.6 1026.3,181.3 1026.9,179.9 1027.5,178.6 1028.2,177.2 1028.8,175.9 1029.5,174.5 1030.1,173.2 1030.8,171.8 1031.5,170.5 1032.3,169.2 1033.0,167.9 1033.9,166.6 1034.8,165.4 1035.7,164.3 1036.8,163.3 1038.1,162.4 1039.4,161.7 1040.9,161.4 1042.4,161.3 1043.8,161.5 1045.2,162.1 1046.5,162.9 1047.7,163.8 1048.8,164.8 1049.8,165.9 1050.7,167.1 1051.6,168.3 1052.4,169.6 1053.2,170.9 1054.0,172.2 1054.7,173.5 1055.4,174.8 1056.0,176.2 1056.6,177.5 1057.3,178.9 1057.9,180.3 1058.4,181.7 1059.0,183.1 1059.5,184.5 1060.0,185.9 1060.5,187.3 1061.0,188.7 1061.5,190.1 1062.0,191.6 1062.4,193.0 1062.9,194.4 1063.3,195.9 1063.7,197.3 1064.2,198.7 1064.6,200.2 1065.0,201.6 1065.4,203.1 1065.8,204.5 1066.2,205.9 1066.6,207.4 1067.0,208.8 1067.4,210.3 1067.8,211.7 1068.2,213.2 1068.6,214.6 1068.9,216.1 1069.3,217.6 1069.7,219.0 1070.1,220.5 1070.5,221.9 1070.8,223.4 1071.2,224.8 1071.6,226.3 1072.0,227.7 1072.4,229.2 1072.8,230.6 1073.1,232.1 1073.5,233.5 1073.9,235.0 1074.3,236.4 1074.7,237.9 1075.1,239.3 1075.5,240.8 1075.9,242.2 1076.3,243.7 1076.7,245.1 1077.1,246.6 1077.5,248.0 1077.9,249.5 1078.3,250.9 1078.7,252.3 1079.1,253.8 1079.5,255.2 1079.9,256.7 1080.3,258.1 1080.7,259.6 1081.1,261.0 1081.5,262.5 1081.9,263.9 1082.3,265.4 1082.7,266.8 1083.1,268.2 1083.5,269.7 1084.0,271.1 1084.4,272.6 1084.8,274.0 1085.2,275.5 1085.6,276.9 1086.0,278.4 1086.4,279.8 1086.8,281.3 1087.2,282.7 1087.6,284.1 1088.0,285.6 1088.4,287.0 1088.8,288.5 1089.2,289.9 1089.7,291.4 1090.1,292.8 1090.5,294.3 1090.9,295.7 1091.3,297.2 1091.7,298.6 1092.1,300.0 1092.5,301.5 1092.9,302.9 1093.3,304.4 1093.7,305.8 1094.1,307.3 1094.6,308.7 1095.0,310.1 1095.4,311.6 1095.9,313.0 1096.3,314.4 1096.8,315.9 1097.3,317.3 1097.8,318.7 1098.3,320.1 1098.8,321.5 1099.3,323.0 1099.8,324.4 1100.4,325.8 1100.9,327.1 1101.5,328.5 1102.1,329.9 1102.7,331.3 1103.4,332.6 1104.0,334.0 1104.7,335.3 1105.3,336.7 1106.1,338.0 1106.8,339.3 1107.5,340.6 1108.3,341.9 1109.1,343.2 1110.0,344.4 1110.8,345.6 1111.7,346.8 1112.7,348.0 1113.7,349.1 1114.7,350.2 1115.8,351.3 1116.9,352.3 1118.1,353.2 1119.3,354.1 1120.5,354.9 1121.8,355.7 1123.1,356.4 1124.5,357.0 1125.9,357.6 1127.3,358.1 1128.7,358.6 1130.2,359.0 1131.6,359.4 1133.1,359.7 1134.6,360.0 1136.0,360.2 1137.5,360.4 1139.0,360.6 1140.5,360.7 1142.0,360.8 1143.5,360.9 1145.0,361.0 1146.5,361.0 1148.0,361.0 1149.5,361.0 1151.0,360.9 1152.5,360.9 1154.0,360.8 1155.5,360.7 1157.0,360.6 1158.5,360.5 1160.0,360.4 1161.5,360.2 1163.0,360.1 1164.5,359.9 1166.0,359.7 1167.5,359.5 1169.0,359.3 1170.4,359.1 1171.9,358.9 1173.4,358.7 1174.9,358.4 1176.4,358.2 1177.9,358.0 1179.3,357.7 1180.8,357.4 1182.3,357.2 1183.8,356.9 1185.3,356.7 1186.7,356.4 1188.2,356.1 1189.7,355.8 1191.2,355.6 1192.6,355.3 1194.1,355.0 1195.6,354.8 1197.1,354.5 1198.5,354.2 1200.0,354.0 1201.5,353.7 1203.0,353.5 1204.5,353.2 1205.9,353.0 1207.4,352.8 1208.9,352.5 1210.4,352.3 1211.9,352.1 1213.4,351.9 1214.9,351.8 1216.4,351.6 1217.9,351.5 1219.4,351.3 1220.9,351.2 1222.4,351.1 1223.9,351.0 1225.4,351.0 1226.9,351.0 1228.4,350.9 1229.9,351.0 1231.4,351.0 1232.9,351.0 1234.4,351.1 1235.9,351.3 1237.3,351.4 1238.8,351.6 1240.3,351.8 1241.8,352.0 1243.3,352.3 1244.7,352.6 1246.2,352.9 1247.7,353.3 1249.1,353.7 1250.6,354.1 1252.0,354.5 1253.5,354.9 1254.9,355.3 1256.3,355.7 1257.8,356.2 1259.2,356.6 1260.6,357.1 1262.1,357.5 1263.5,357.9 1265.0,358.4 1266.4,358.8 1267.9,359.2 1269.3,359.5 1270.8,359.9 1272.2,360.3 1273.7,360.6 1275.2,360.9 1276.6,361.1 1278.1,361.4 1279.6,361.6 1281.1,361.9 1282.6,362.1 1284.1,362.3 1285.5,362.5 1287.0,362.7 1288.5,362.8 1290.0,363.0 1291.5,363.2 1293.0,363.4 1294.5,363.5 1296.0,363.7 1297.5,363.9 1299.0,364.1 1300.4,364.3 1301.9,364.5 1303.4,364.7 1304.9,364.9 1306.4,365.1 1307.9,365.3 1309.4,365.5 1310.9,365.8 1312.3,366.0 1313.8,366.2 1315.3,366.4 1316.8,366.6 1318.3,366.8 1319.8,367.0 1321.3,367.2 1322.7,367.4 1324.2,367.6 1325.7,367.8 1327.2,368.0 1328.7,368.2 1330.2,368.4 1331.7,368.6 1333.2,368.7 1334.7,368.9 1336.2,369.0 1337.7,369.2 1339.2,369.3 1340.6,369.5 1342.1,369.6 1343.6,369.7 1345.1,369.8 1346.6,369.9 1348.1,370.0 1349.6,370.0 1351.1,370.1 1352.6,370.2 1354.1,370.2 1355.6,370.3 1357.1,370.3 1358.6,370.3 1360.1,370.4 1361.6,370.4 1363.1,370.4 1364.6,370.5 1366.1,370.5 1367.6,370.6 1369.1,370.6 1370.6,370.7 1372.1,370.8 1373.6,370.9 1375.1,371.0 1376.6,371.1 1378.1,371.2 1379.6,371.4 1381.1,371.5 1382.6,371.7 1384.1,371.9 1385.6,372.1 1387.1,372.4 1388.5,372.7 1390.0,373.0 1391.5,373.3 1392.9,373.6 1394.4,374.0 1395.8,374.4 1397.3,374.7 1398.7,375.1 1400.2,375.5 1401.6,375.9 1403.1,376.3 1404.5,376.7 1406.0,377.1 1407.4,377.5 1408.9,377.9 1410.3,378.2 1411.8,378.6 1413.3,378.9 1414.7,379.2 1416.2,379.5 1417.7,379.8 1419.2,380.1 1420.7,380.3 1422.1,380.5 1423.6,380.7 1425.1,380.9 1426.6,381.0 1428.1,381.1 1429.6,381.3 1431.1,381.4 1432.6,381.5 1434.1,381.5 1435.6,381.6 1437.1,381.6 1438.6,381.7 1440.1,381.7 1441.6,381.7 1443.1,381.7 1444.6,381.7 1446.1,381.6 1447.6,381.6 1449.1,381.5 1450.6,381.5 1452.1,381.4 1453.6,381.4 1455.1,381.3 1456.6,381.2 1458.1,381.1 1459.6,381.0 1461.1,380.9 1462.6,380.8" stroke="#008000" stroke-width="3.8" fill="none" stroke-linejoin="round" stroke-linecap="round"/>
<path d="M876,37H1462.6" stroke="#000" stroke-width="1.9"/>
<rect x="1069.9" y="37.3" width="392.7" height="150" fill="#fff" stroke="#000" stroke-width="1.4" stroke-linejoin="round"/>
<path d="M1086.8,64.3H1135.1" stroke="#000000" stroke-width="4.3" stroke-linecap="round"/>
<text transform="translate(1146.40,71.30)" class="sans" font-size="21" letter-spacing="0.13">HRP</text>
<path d="M1086.8,93.5H1135.1" stroke="#ff0000" stroke-width="4.3" stroke-linecap="round"/>
<text transform="translate(1146.40,97.90)" class="sans" font-size="21" letter-spacing="0.13">HRP + <tspan letter-spacing="0.9">H</tspan><tspan dy="5.2" font-size="19.5" letter-spacing="0.9">2</tspan><tspan dy="-3.2" font-size="20.5" letter-spacing="0.9">O</tspan><tspan dy="3.2" font-size="19.5">2</tspan></text>
<path d="M1086.8,125.7H1135.1" stroke="#0000ff" stroke-width="4.3" stroke-linecap="round"/>
<text transform="translate(1146.40,129.40)" class="sans" font-size="21" letter-spacing="0.13">HRP + reduced Prdx6 + <tspan letter-spacing="0.9">H</tspan><tspan dy="5.2" font-size="19.5" letter-spacing="0.9">2</tspan><tspan dy="-3.2" font-size="20.5" letter-spacing="0.9">O</tspan><tspan dy="3.2" font-size="19.5">2</tspan></text>
<path d="M1086.8,157.4H1135.1" stroke="#008000" stroke-width="4.3" stroke-linecap="round"/>
<text transform="translate(1146.40,161.60)" class="sans" font-size="21" letter-spacing="0.13">HRP + oxidised Prdx6 + <tspan letter-spacing="0.9">H</tspan><tspan dy="5.2" font-size="19.5" letter-spacing="0.9">2</tspan><tspan dy="-3.2" font-size="20.5" letter-spacing="0.9">O</tspan><tspan dy="3.2" font-size="19.5">2</tspan></text>
</svg>
</body></html>
